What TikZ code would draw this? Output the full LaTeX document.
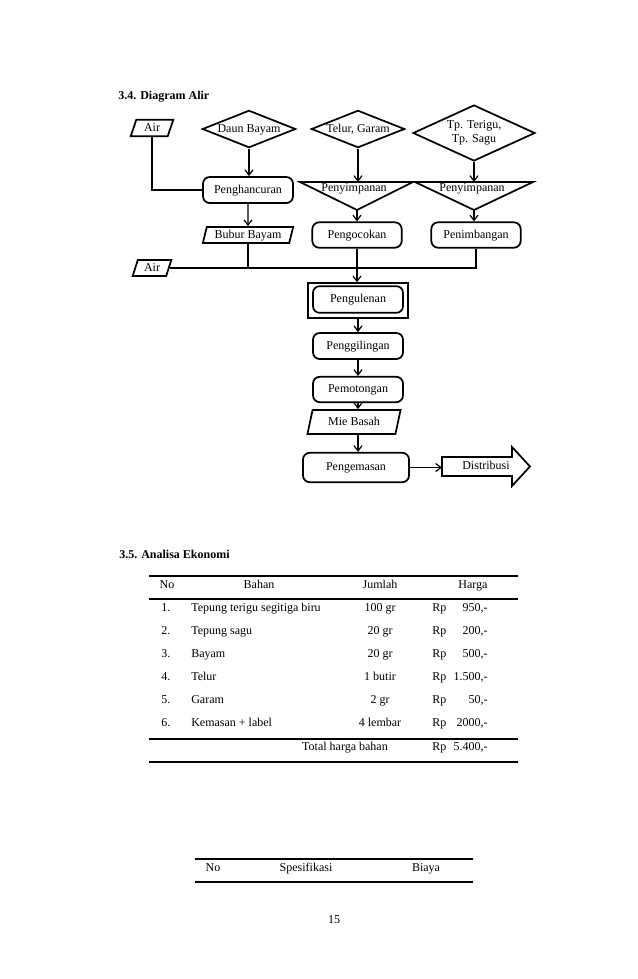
\documentclass[tikz,border=0pt]{standalone}
\usepackage{fontspec}
\setmainfont{Liberation Serif}
\usetikzlibrary{shapes.geometric,arrows.meta}

\begin{document}
\begin{tikzpicture}[x=0.75pt, y=-0.75pt, >={Straight Barb[length=4pt,width=6pt]},
  font=\fontsize{9}{11}\selectfont,
  tx/.style={text height=6.3pt, text depth=1.8pt},
  shp/.style={draw, line width=1.3pt},
  proc/.style={shp, tx, rounded corners=5pt, minimum width=67.5pt, minimum height=19.5pt, inner sep=1pt},
  io/.style={shp, tx, trapezium, trapezium left angle=76, trapezium right angle=104,
    trapezium stretches=true, inner sep=1pt},
  dec/.style={shp, diamond, aspect=2.5, inner sep=0pt},
  flow/.style={->, line width=0.9pt},
  link/.style={line width=0.9pt},
  rule/.style={line width=1.1pt},
  cel/.style={tx, inner sep=0pt},
  judul/.style={cel, anchor=west, font=\fontsize{9}{11}\selectfont\bfseries}]
  \path[use as bounding box, fill=white] (0,0) rectangle (638,979);

  % diagram alir
  \node[judul] (t34) at (118,96) {3.4. Diagram Alir};
  \node[io, minimum width=32pt, minimum height=12.5pt] (air1) at (152,128) {Air};
  \node[dec, tx, minimum width=70pt, minimum height=28pt] (daun) at (249,129) {Daun Bayam};
  \node[dec, tx, minimum width=70pt, minimum height=28pt] (telur) at (358,129) {Telur, Garam};
  \node[dec, minimum width=91.5pt, minimum height=42pt, align=center,
    font=\fontsize{9}{10.5}\selectfont] (tp) at (474,133) {Tp. Terigu,\\Tp. Sagu};

  \node[proc] (hancur) at (248,190) {Penghancuran};
  \draw[shp] (300,182) coordinate (simp1t) -- (413,182) -- (357,210) coordinate (simp1b) -- cycle;
  \node[cel] (simp1) at (354,188) {Penyimpanan};
  \draw[shp] (415,182) coordinate (simp2t) -- (533,182) -- (474,210) coordinate (simp2b) -- cycle;
  \node[cel] (simp2) at (472,188) {Penyimpanan};

  \node[io, minimum width=68pt, minimum height=12pt] (bubur) at (248,235) {Bubur Bayam};
  \node[proc, minimum width=67pt, minimum height=19pt] (kocok) at (357,235) {Pengocokan};
  \node[proc, minimum width=67pt, minimum height=19pt] (timbang) at (476,235) {Penimbangan};
  \node[io, minimum width=29pt, minimum height=12pt] (air2) at (152,268) {Air};

  \node[shp, minimum width=75pt, minimum height=26pt] (gulbox) at (358,300.5) {};
  \node[proc, minimum height=20pt] (gul) at (358,299.5) {Pengulenan};
  \node[proc] (giling) at (358,346) {Penggilingan};
  \node[proc, minimum height=19pt] (potong) at (358,389.5) {Pemotongan};
  \node[io, minimum width=70pt, minimum height=18pt] (mie) at (354,422) {Mie Basah};
  \node[proc, minimum width=79.5pt, minimum height=22pt] (kemas) at (356,467.5) {Pengemasan};
  \draw[shp] (442,457) coordinate (distekor) -- (512,457) -- (512,447) -- (530,466.5)
    -- (512,486) -- (512,476) -- (442,476) -- cycle;
  \node[cel] (dist) at (486,466.5) {Distribusi};

  \draw[link] (air1.south) -- (air1.south |- hancur.west) -- (hancur.west);
  \draw[flow] (daun.south) -- (daun.south |- hancur.north);
  \draw[flow] (telur.south) -- (telur.south |- simp1t);
  \draw[flow] (tp.south) -- (tp.south |- simp2t);
  \draw[flow] (hancur.south) -- (bubur.north);
  \draw[flow] (simp1b) -- (simp1b |- kocok.north);
  \draw[flow] (simp2b) -- (simp2b |- timbang.north);
  \draw[link] (air2.east) -- (air2.east -| timbang.south) -- (timbang.south);
  \draw[link] (bubur.south) -- (bubur.south |- air2.east);
  \draw[flow] (kocok.south) -- (kocok.south |- gulbox.north);
  \draw[flow] (gulbox.south) -- (giling.north);
  \draw[flow] (giling.south) -- (potong.north);
  \draw[flow] (potong.south) -- (potong.south |- mie.north);
  \draw[flow] (potong.south |- mie.south) -- (potong.south |- kemas.north);
  \draw[flow] (kemas.east) -- (kemas.east -| distekor);

  % analisa ekonomi
  \node[judul] (t35) at (119,555) {3.5. Analisa Ekonomi};
  \draw[rule] (149,576) -- (518,576);
  \draw[rule] (149,599) -- (518,599);
  \draw[line width=1.6pt] (149,739) -- (518,739);
  \draw[rule] (149,762) -- (518,762);
  \node[cel] (hno) at (167,585) {No};
  \node[cel] (hbahan) at (259,585) {Bahan};
  \node[cel] (hjumlah) at (380,585) {Jumlah};
  \node[cel] (hharga) at (473,585) {Harga};
  \foreach \no/\bahan/\jml/\hrg/\y in {1./Tepung terigu segitiga biru/100 gr/{950,-}/608,
      2./Tepung sagu/20 gr/{200,-}/631, 3./Bayam/20 gr/{500,-}/654, 4./Telur/1 butir/{1.500,-}/677,
      5./Garam/2 gr/{50,-}/700, 6./Kemasan + label/4 lembar/{2000,-}/723} {
    \node[cel, anchor=west] (no\y) at (161,\y) {\no};
    \node[cel, anchor=west] (bahan\y) at (191,\y) {\bahan};
    \node[cel] (jml\y) at (380,\y) {\jml};
    \node[cel, anchor=west] (rp\y) at (432,\y) {Rp};
    \node[cel, anchor=east] (hrg\y) at (488,\y) {\hrg};
  }
  \node[cel] (total) at (345,747) {Total harga bahan};
  \node[cel, anchor=west] (rptot) at (432,747) {Rp};
  \node[cel, anchor=east] (hrgtot) at (488,747) {5.400,-};

  % tabel biaya
  \draw[rule] (195,859) -- (473,859);
  \draw[rule] (195,882) -- (473,882);
  \node[cel] (bno) at (213,868) {No};
  \node[cel] (bspes) at (306,868) {Spesifikasi};
  \node[cel] (bbiaya) at (426,868) {Biaya};

  \node[cel] (hal) at (334,920) {15};
\end{tikzpicture}
\end{document}
